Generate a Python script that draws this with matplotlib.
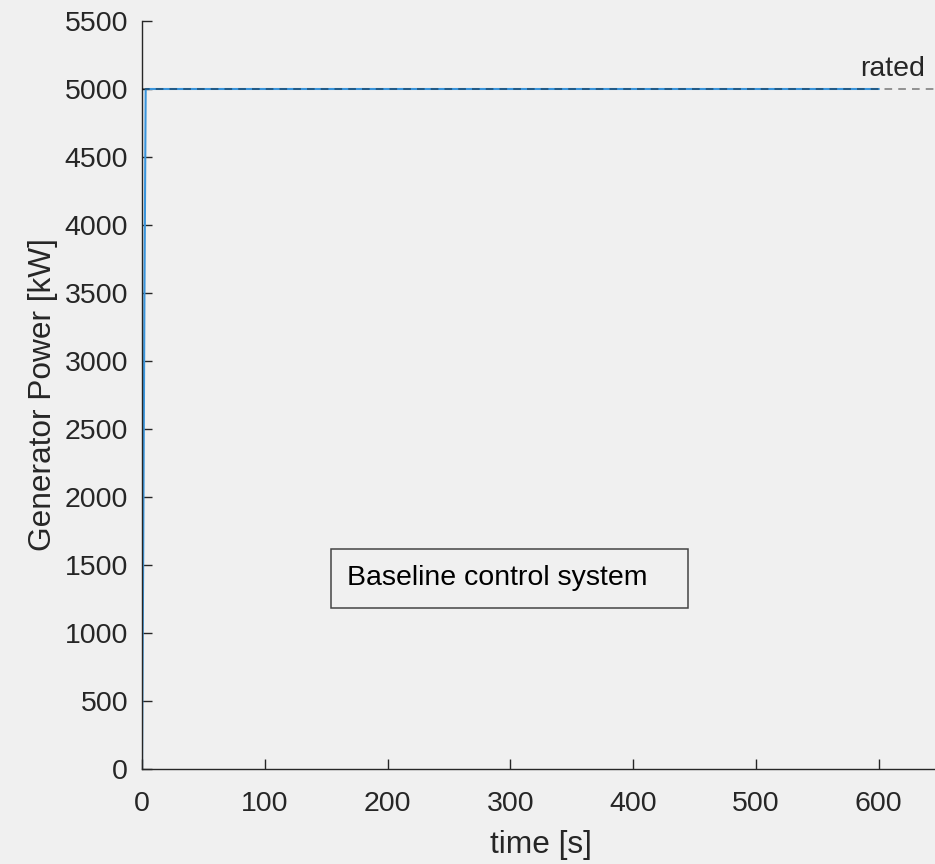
import matplotlib.pyplot as plt
from matplotlib.patches import Rectangle

# Generator power response (baseline controller)
time = [0, 1, 2, 3, 600]
power = [0, 1600, 3500, 5000, 5000]

rated_power = 5000
x_limits = (0, 650)
y_limits = (0, 5500)
x_ticks = [0, 100, 200, 300, 400, 500, 600]
y_ticks = [0, 500, 1000, 1500, 2000, 2500, 3000, 3500, 4000, 4500, 5000, 5500]

plt.rcParams['font.family'] = ['Liberation Sans', 'DejaVu Sans']

bg = '#f0f0f0'
dark = '#262626'

fig = plt.figure(figsize=(9.35, 8.64), dpi=100, facecolor=bg)
ax = fig.add_axes([142 / 935, (864 - 769) / 864, 798 / 935, 748 / 864])
ax.set_facecolor(bg)

ax.plot(time, power, color='#3a95dc', linewidth=1.5, zorder=2)
ax.axhline(rated_power, color='black', linestyle=(0, (5, 4)), linewidth=1.1,
           alpha=0.5, zorder=3)

ax.text(585, 5095, 'rated', fontsize=20.5, color=dark)

# annotation box
ax.add_patch(Rectangle((0.2368, 0.2152), 0.4474, 0.0788, transform=ax.transAxes,
                       facecolor=bg, edgecolor='#444444', linewidth=1.1, zorder=4))
ax.text(0.257, 0.2553, 'Baseline control system', transform=ax.transAxes,
        fontsize=20.5, color='black', va='center', ha='left', zorder=5)

ax.set_xlim(x_limits)
ax.set_ylim(y_limits)
ax.set_xticks(x_ticks)
ax.set_yticks(y_ticks)

for side in ['top', 'right']:
    ax.spines[side].set_visible(False)
for side in ['left', 'bottom']:
    ax.spines[side].set_color(dark)
    ax.spines[side].set_linewidth(1.0)

ax.tick_params(direction='in', length=7, width=1, colors=dark, labelsize=20.5)
ax.tick_params(axis='x', pad=16)
ax.tick_params(axis='y', pad=10)

ax.set_xlabel('time [s]', fontsize=22.8, color=dark, labelpad=9)
ax.set_ylabel('Generator Power [kW]', fontsize=22.8, color=dark, labelpad=5)

plt.savefig('out.png', dpi=100, facecolor=bg)
plt.close()
